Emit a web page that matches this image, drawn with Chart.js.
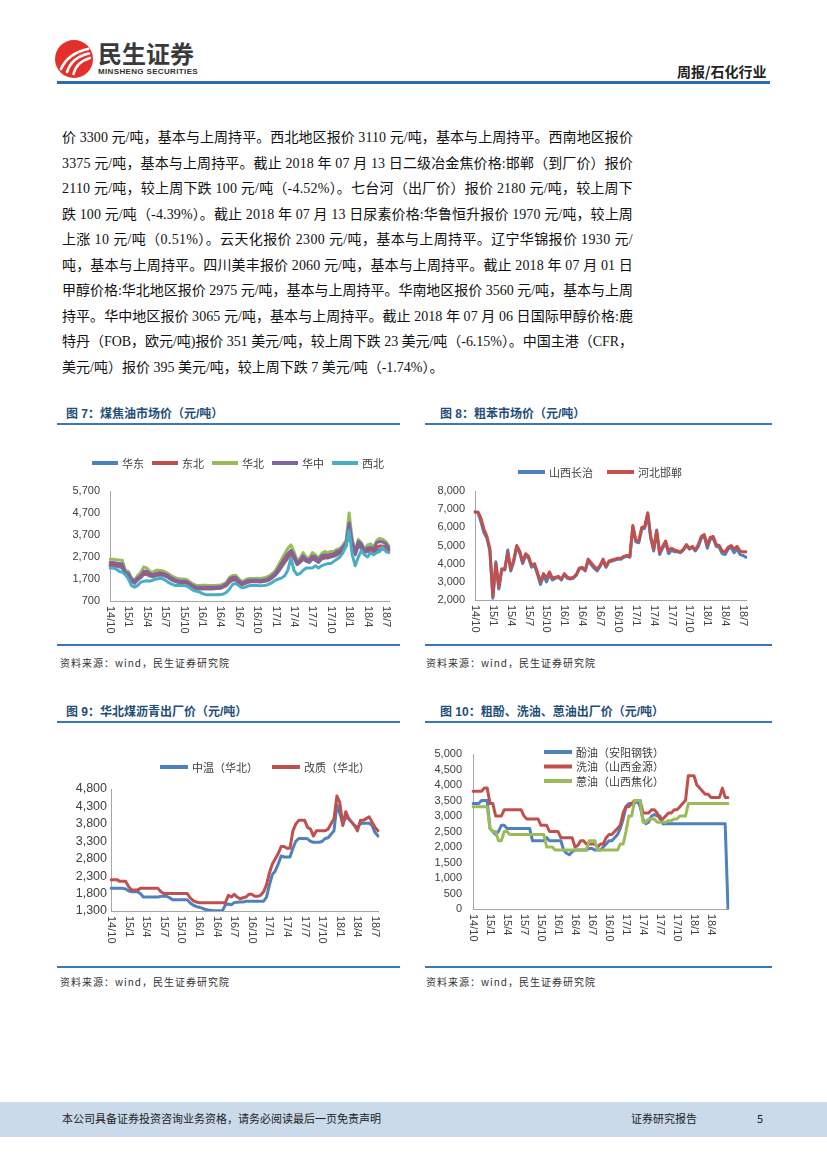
<!DOCTYPE html>
<html>
<head>
<meta charset="utf-8">
<script src="https://cdn.jsdelivr.net/npm/chart.js@4.4.1/dist/chart.umd.min.js"></script>
<style>
html, body { margin: 0; padding: 0; background: #fff; }
#page { position: relative; width: 827px; height: 1169px; overflow: hidden; background: #fff; }
.abs { position: absolute; }
.ln { position: absolute; left: 62px; height: 20px; line-height: 20px; font-size: 14px; color: #111;
      font-family: "Liberation Serif", "Noto Sans CJK SC", serif; white-space: nowrap; }
.title { position: absolute; font-family: "Liberation Sans", "Noto Sans CJK SC", sans-serif; font-weight: bold;
         font-size: 12px; line-height: 16px; color: #1F4E79; white-space: nowrap; }
.rule { position: absolute; background: #3B78B9; }
.src { position: absolute; font-family: "Noto Sans CJK SC", sans-serif; font-size: 10px; line-height: 14px;
       letter-spacing: 1px; color: #333; white-space: nowrap; }
canvas { position: absolute; }
.foot { position: absolute; font-family: "Noto Sans CJK SC", sans-serif; font-size: 11px; line-height: 16px; color: #222; white-space: nowrap; }
</style>
</head>
<body>
<div id="page">
  <!-- header -->
  <svg class="abs" style="left:54px;top:39px" width="40" height="40" viewBox="0 0 40 40">
    <circle cx="20" cy="20" r="19" fill="#E3302A"/>
    <path d="M7 30 C11 21 20 13 34 10" stroke="#fff" stroke-width="2.8" fill="none" stroke-linecap="round"/>
    <path d="M13 33 C16 24 23 17 35 14.5" stroke="#fff" stroke-width="2.6" fill="none" stroke-linecap="round"/>
    <path d="M19.5 35 C21 28 26 22 36 19" stroke="#fff" stroke-width="2.4" fill="none" stroke-linecap="round"/>
  </svg>
  <div class="abs" id="logoCn" style="left:98px;top:39px;font-family:'Noto Sans CJK SC',sans-serif;font-weight:bold;font-size:24px;line-height:28px;color:#3a3a3a;white-space:nowrap;">民生证券</div>
  <div class="abs fitw" data-w="100" style="left:98px;top:67px;font-family:'Liberation Sans',sans-serif;font-weight:bold;font-size:8px;line-height:10px;color:#333;white-space:nowrap;">MINSHENG SECURITIES</div>
  <div class="abs" style="left:677px;top:62px;font-family:'Noto Sans CJK SC',sans-serif;font-weight:bold;font-size:14px;line-height:18px;color:#222;white-space:nowrap;">周报/石化行业</div>
  <div class="abs" style="left:57px;top:81px;width:713px;height:3px;background:#2D6BAE;"></div>

  <!-- body text -->
  <div class="ln fit" style="top:128px">价 3300 元/吨，基本与上周持平。西北地区报价 3110 元/吨，基本与上周持平。西南地区报价</div>
  <div class="ln fit" style="top:154px">3375 元/吨，基本与上周持平。截止 2018 年 07 月 13 日二级冶金焦价格:邯郸（到厂价）报价</div>
  <div class="ln fit" style="top:179px">2110 元/吨，较上周下跌 100 元/吨（-4.52%）。七台河（出厂价）报价 2180 元/吨，较上周下</div>
  <div class="ln fit" style="top:205px">跌 100 元/吨（-4.39%）。截止 2018 年 07 月 13 日尿素价格:华鲁恒升报价 1970 元/吨，较上周</div>
  <div class="ln fit" style="top:230px">上涨 10 元/吨（0.51%）。云天化报价 2300 元/吨，基本与上周持平。辽宁华锦报价 1930 元/</div>
  <div class="ln fit" style="top:256px">吨，基本与上周持平。四川美丰报价 2060 元/吨，基本与上周持平。截止 2018 年 07 月 01 日</div>
  <div class="ln fit" style="top:281px">甲醇价格:华北地区报价 2975 元/吨，基本与上周持平。华南地区报价 3560 元/吨，基本与上周</div>
  <div class="ln fit" style="top:307px">持平。华中地区报价 3065 元/吨，基本与上周持平。截止 2018 年 07 月 06 日国际甲醇价格:鹿</div>
  <div class="ln fit" style="top:332px">特丹（FOB，欧元/吨)报价 351 美元/吨，较上周下跌 23 美元/吨（-6.15%）。中国主港（CFR，</div>
  <div class="ln" style="top:358px">美元/吨）报价 395 美元/吨，较上周下跌 7 美元/吨（-1.74%）。</div>

  <!-- figure 7 / 8 frames -->
  <div class="title" style="left:66px;top:406px">图 7：煤焦油市场价（元/吨）</div>
  <div class="rule" style="left:57px;top:423px;width:343px;height:1.5px"></div>
  <div class="title" style="left:440px;top:406px">图 8：粗苯市场价（元/吨）</div>
  <div class="rule" style="left:425px;top:423px;width:347px;height:1.5px"></div>
  <canvas id="chart7" width="340" height="215" style="left:60px;top:430px"></canvas>
  <canvas id="chart8" width="360" height="215" style="left:420px;top:430px"></canvas>
  <div class="rule" style="left:57px;top:644px;width:343px;height:2px"></div>
  <div class="rule" style="left:425px;top:644px;width:347px;height:2px"></div>
  <div class="src" style="left:60px;top:656px">资料来源：wind，民生证券研究院</div>
  <div class="src" style="left:426px;top:656px">资料来源：wind，民生证券研究院</div>

  <!-- figure 9 / 10 frames -->
  <div class="title" style="left:66px;top:704px">图 9：华北煤沥青出厂价（元/吨）</div>
  <div class="rule" style="left:57px;top:721px;width:343px;height:1.5px"></div>
  <div class="title" style="left:440px;top:704px">图 10：粗酚、洗油、蒽油出厂价（元/吨）</div>
  <div class="rule" style="left:425px;top:721px;width:347px;height:1.5px"></div>
  <canvas id="chart9" width="340" height="237" style="left:60px;top:730px"></canvas>
  <canvas id="chart10" width="360" height="237" style="left:420px;top:730px"></canvas>
  <div class="rule" style="left:57px;top:966px;width:343px;height:2px"></div>
  <div class="rule" style="left:425px;top:966px;width:347px;height:2px"></div>
  <div class="src" style="left:60px;top:975px">资料来源：wind，民生证券研究院</div>
  <div class="src" style="left:426px;top:975px">资料来源：wind，民生证券研究院</div>

  <!-- footer -->
  <div class="abs" style="left:0;top:1102px;width:827px;height:35px;background:#CBDAEA;"></div>
  <div class="foot" style="left:62px;top:1110px">本公司具备证券投资咨询业务资格，请务必阅读最后一页免责声明</div>
  <div class="foot" style="left:631px;top:1110px">证券研究报告</div>
  <div class="foot" style="left:757px;top:1110px">5</div>
</div>

<script>
// semi-monthly periods, 14/10 .. 18/7 (two points per month)
const periods = [];
for (let k = 0; k < 46; k++) {
    const y = 14 + Math.floor((9 + k) / 12);
    const m = (9 + k) % 12 + 1;
    periods.push(y + '/' + m, '');
}
const tickLabels = ['14/10', '15/1', '15/4', '15/7', '15/10', '16/1', '16/4', '16/7',
                    '16/10', '17/1', '17/4', '17/7', '17/10', '18/1', '18/4', '18/7'];

// 图7 煤焦油市场价
const tarHuadong = [2300,2300,2280,2250,2200,1900,1850,1600,1500,1650,
    1750,1900,1900,1830,1800,1850,1880,1870,1830,1760,
    1660,1600,1550,1530,1530,1510,1430,1340,1270,1250,
    1250,1260,1250,1250,1260,1270,1270,1330,1400,1560,
    1640,1660,1520,1430,1490,1550,1570,1570,1570,1560,
    1580,1610,1660,1760,1880,2050,2250,2450,2650,2800,
    2650,2350,2450,2600,2500,2450,2600,2550,2450,2600,
    2650,2650,2700,2730,2800,2850,3000,3200,3900,3200,
    2800,3200,3100,2900,2950,2950,2850,3000,3050,3050,
    3050,3000];
const tarDongbei = [2350,2350,2330,2320,2300,1950,1900,1650,1550,1700,
    1800,1950,1950,1880,1850,1900,1930,1920,1880,1800,
    1700,1630,1580,1560,1560,1540,1460,1370,1300,1280,
    1280,1290,1280,1280,1290,1300,1300,1360,1430,1600,
    1680,1700,1560,1460,1520,1580,1600,1600,1600,1590,
    1610,1640,1700,1800,1920,2100,2300,2500,2700,2850,
    2700,2400,2500,2650,2550,2500,2650,2600,2500,2650,
    2700,2700,2750,2780,2850,2900,3050,3250,4000,3300,
    2850,3300,3200,2950,3000,3050,2950,3150,3200,3200,
    3150,3000];
const tarHuabei = [2600,2600,2580,2560,2550,2100,2050,1750,1650,1850,
    2000,2250,2200,2050,2000,2100,2100,2080,2020,1950,
    1850,1780,1720,1700,1700,1680,1580,1480,1420,1400,
    1420,1420,1410,1400,1410,1420,1420,1480,1550,1780,
    1860,1870,1700,1580,1650,1720,1720,1720,1730,1720,
    1750,1780,1850,1950,2100,2350,2600,2850,3100,3250,
    2950,2550,2650,2900,2700,2650,2900,2800,2650,2850,
    2950,2900,2950,2950,3050,3100,3250,3450,4700,3500,
    3000,3500,3350,3050,3250,3300,3150,3450,3550,3500,
    3400,3200];
const tarHuazhong = [2450,2450,2430,2400,2380,2000,1950,1700,1600,1750,
    1850,2050,2050,1950,1900,1950,1980,1970,1920,1850,
    1750,1680,1620,1600,1600,1580,1500,1400,1340,1320,
    1330,1330,1320,1320,1330,1340,1340,1400,1480,1700,
    1780,1780,1620,1500,1570,1630,1640,1640,1640,1630,
    1650,1680,1750,1850,1980,2200,2420,2650,2850,3000,
    2800,2450,2550,2750,2600,2550,2750,2700,2550,2750,
    2800,2780,2820,2850,2950,3000,3150,3350,4250,3400,
    2900,3400,3300,3000,3100,3150,3050,3350,3400,3380,
    3300,3100];
const tarXibei = [2200,2200,2150,2050,2000,1900,1700,1400,1330,1400,
    1550,1600,1620,1600,1650,1700,1720,1720,1650,1550,
    1480,1420,1400,1400,1400,1380,1300,1200,1150,1120,
    1050,1000,980,980,980,980,990,1020,1100,1250,
    1450,1500,1400,1300,1320,1380,1400,1400,1400,1390,
    1400,1420,1480,1550,1650,1700,1750,1850,2100,2650,
    2100,1900,1950,2100,2200,2200,2200,2300,2200,2300,
    2350,2400,2400,2500,2600,2700,2900,3200,3900,2800,
    2300,2700,3000,2800,2700,2900,2800,2900,2950,3150,
    2950,2900];

// 图8 粗苯市场价
const benzeneShanxi = [6850,6800,6300,5700,5400,4700,2100,4100,2600,3700,
    3650,4750,3600,4100,4900,4600,4000,4450,4300,3800,
    3900,3400,2850,3350,3000,3400,3100,3200,3250,3100,
    3400,3200,3150,3200,3350,3700,3750,3600,4150,3950,
    3750,3600,3850,4150,3800,4100,4150,4200,4250,4250,
    4350,4400,4350,6000,5200,5150,5900,5950,6750,5400,
    4700,5850,4500,4850,5150,4550,4750,4650,4650,4600,
    4750,5000,4800,4900,4700,4950,5400,5500,4850,5350,
    5400,4950,4900,4550,4500,4800,4900,4600,4800,4500,
    4450,4350];
const benzeneHebei = [6850,6850,6500,5900,5500,4800,2200,4000,2700,3700,
    3700,4600,3700,4200,5000,4700,4100,4550,4400,3900,
    4000,3500,3000,3450,3200,3550,3200,3250,3300,3150,
    3450,3250,3200,3250,3400,3750,3800,3650,4250,4050,
    3850,3700,3900,4250,3850,4150,4200,4250,4300,4300,
    4400,4450,4400,6100,5300,5250,6000,6050,6800,5500,
    4800,5800,4600,4950,5250,4700,4850,4750,4700,4650,
    4800,5050,4850,4950,4750,5050,5500,5600,5000,5450,
    5500,5050,5000,4700,4650,4900,5000,4800,4950,4700,
    4650,4650];

// 图9 华北煤沥青出厂价
const pitchMid = [1950,1950,1950,1950,1950,1930,1880,1850,1850,1850,
    1800,1700,1700,1700,1700,1700,1700,1720,1720,1720,
    1680,1620,1620,1620,1620,1620,1620,1530,1470,1430,
    1410,1380,1350,1330,1320,1310,1310,1310,1310,1480,
    1500,1480,1540,1550,1560,1560,1580,1580,1580,1580,
    1580,1580,1580,1700,2050,2350,2450,2650,2880,2850,
    2850,2850,3100,3300,3380,3380,3380,3370,3300,3270,
    3270,3270,3300,3380,3400,3500,3600,4350,4100,3800,
    4000,3950,3850,3750,3700,3800,3820,3820,3820,3750,
    3550,3450];
const pitchModified = [2200,2200,2200,2150,2150,2150,2000,1900,1900,1900,
    1950,1950,1950,1950,1950,1950,1950,1850,1800,1800,
    1800,1800,1800,1800,1800,1800,1800,1680,1600,1560,
    1540,1540,1540,1540,1540,1540,1540,1540,1540,1540,
    1750,1700,1780,1700,1650,1680,1700,1780,1780,1720,
    1720,1750,1850,2050,2400,2650,2800,2950,3150,3150,
    3100,3100,3600,3800,3900,3900,3900,3700,3650,3450,
    3600,3600,3600,3600,3650,3800,3950,4600,4400,3750,
    4150,3950,3850,3750,3600,3900,3900,3950,4000,3850,
    3700,3600];

// 图10 粗酚、洗油、蒽油出厂价 (ends one point earlier)
const phenolOil = [3400,3400,3400,3500,3500,3500,2600,2500,2400,2500,
    2700,2700,2600,2600,2600,2600,2600,2600,2600,2600,
    2600,2200,2200,2200,2200,2200,2300,2200,2200,2200,
    2200,2200,1900,1800,1750,1850,1900,1900,1900,1900,
    1900,1950,1950,1900,1900,1900,2000,2100,2200,2200,
    2300,2400,2600,2900,3300,3400,3400,3400,3500,3300,
    2900,2750,2800,3000,3050,3000,3000,2750,2750,2750,
    2750,2750,2750,2750,2750,2750,2750,2750,2750,2750,
    2750,2750,2750,2750,2750,2750,2750,2750,2750,2750,
    0];
const washOil = [3800,3800,3800,3800,3900,3900,3400,3400,3000,3000,
    3000,3200,3200,3200,3200,3200,3200,3200,3000,2900,
    2900,2900,2900,2900,2700,2700,2700,2500,2500,2500,
    2500,2300,2300,2300,2300,2300,2000,2050,2200,2200,
    2100,2100,2100,2100,2000,2100,2100,2300,2400,2400,
    2500,2600,2700,3100,3300,3300,3400,3500,3500,3500,
    3100,3100,3100,3200,3200,3100,2900,2900,3000,3100,
    3100,3200,3200,3300,3400,3500,4300,4300,4300,4000,
    3900,3800,3700,3700,3600,3600,3600,3600,3900,3600,
    3600];
const anthraceneOil = [3300,3300,3300,3300,3300,3300,2600,2500,2500,2200,
    2200,2500,2500,2400,2400,2400,2400,2400,2400,2400,
    2400,2400,2400,2400,2400,2400,2000,2000,2000,1900,
    1900,1900,1900,1900,1900,1900,1900,1900,1900,1900,
    1900,2200,2200,2200,1900,1900,1900,1900,1900,1900,
    1900,1900,2100,2100,2500,3000,3000,3500,3500,3500,
    2800,2800,2900,2900,2900,2800,2800,2800,2800,2850,
    2850,2900,2900,3000,3000,3000,3400,3400,3400,3400,
    3400,3400,3400,3400,3400,3400,3400,3400,3400,3400,
    3400];

const BLUE = '#4F81BD', RED = '#C0504D', GREEN = '#9BBB59', PURPLE = '#8064A2', CYAN = '#4BACC6';
const AXIS_TEXT = '#404040';

Chart.defaults.font.family = '"Liberation Sans", "Noto Sans CJK SC", sans-serif';

// legend drawn as thick line samples with text, at a set spot in the canvas
const lineLegend = {
    id: 'lineLegend',
    afterDraw(chart, args, opts) {
        const ctx = chart.ctx;
        ctx.save();
        ctx.font = '11px "Noto Sans CJK SC", sans-serif';
        ctx.textBaseline = 'middle';
        ctx.textAlign = 'left';
        let x = opts.x;
        let y = opts.y;
        chart.data.datasets.forEach(ds => {
            ctx.strokeStyle = ds.borderColor;
            ctx.lineWidth = 4;
            ctx.beginPath();
            ctx.moveTo(x, y);
            ctx.lineTo(x + opts.lineLen, y);
            ctx.stroke();
            ctx.fillStyle = AXIS_TEXT;
            ctx.fillText(ds.label, x + opts.lineLen + 4, y + 0.5);
            if (opts.vertical) {
                y += opts.step;
            } else {
                x += opts.lineLen + 4 + ctx.measureText(ds.label).width + opts.gap;
            }
        });
        ctx.restore();
    }
};

// date labels turned 90deg clockwise under the x axis
const dateTicks = {
    id: 'dateTicks',
    afterDraw(chart, args, opts) {
        const xs = chart.scales.x;
        const ctx = chart.ctx;
        ctx.save();
        ctx.font = '11px "Liberation Sans", sans-serif';
        ctx.fillStyle = AXIS_TEXT;
        ctx.textBaseline = 'middle';
        ctx.textAlign = 'left';
        chart.data.labels.forEach((p, i) => {
            if (!p || !tickLabels.includes(p) || i > opts.lastIndex) return;
            ctx.save();
            ctx.translate(xs.getPixelForValue(i), xs.bottom - opts.height + 5);
            ctx.rotate(Math.PI / 2);
            ctx.fillText(p, 0, 0);
            ctx.restore();
        });
        ctx.restore();
    }
};

function renderLineChart(canvasId, series, cfg) {
    const ctx = document.getElementById(canvasId).getContext('2d');
    const datasets = series.map((s, i) => ({
        label: s.label,
        data: s.data,
        borderColor: s.color,
        borderWidth: cfg.lineWidth || 3,
        pointRadius: 0,
        tension: 0,
        fill: false,
        borderJoinStyle: 'round',
        borderCapStyle: 'round',
        order: series.length - i   // later series painted on top, as in the source
    }));
    return new Chart(ctx, {
        type: 'line',
        data: { labels: cfg.labels, datasets: datasets },
        options: {
            responsive: false,
            animation: false,
            devicePixelRatio: 1,
            layout: { padding: cfg.padding },
            plugins: {
                legend: { display: false },
                tooltip: { enabled: false },
                lineLegend: cfg.legend,
                dateTicks: { height: cfg.xHeight, lastIndex: cfg.lastTick }
            },
            scales: {
                x: {
                    grid: { display: false, drawTicks: false },
                    border: { color: '#A6A6A6', width: 1 },
                    ticks: { display: false },
                    afterFit: s => { s.height = cfg.xHeight; }
                },
                y: {
                    min: cfg.min,
                    max: cfg.max,
                    grid: { display: false, drawTicks: false },
                    border: { color: '#A6A6A6', width: 1 },
                    ticks: {
                        stepSize: cfg.step,
                        autoSkip: false,
                        color: AXIS_TEXT,
                        padding: cfg.tickPad,
                        font: { size: cfg.yFont || 11 }
                    },
                    afterFit: s => { s.width = cfg.yWidth; }
                }
            }
        },
        plugins: [lineLegend, dateTicks]
    });
}

renderLineChart('chart7', [
    { label: '华东', data: tarHuadong, color: BLUE },
    { label: '东北', data: tarDongbei, color: RED },
    { label: '华北', data: tarHuabei, color: GREEN },
    { label: '华中', data: tarHuazhong, color: PURPLE },
    { label: '西北', data: tarXibei, color: CYAN }
], {
    labels: periods, min: 700, max: 5700, step: 1000,
    padding: { left: 0, top: 61, right: 11, bottom: 0 },
    yWidth: 50, xHeight: 44, tickPad: 10, lastTick: 91,
    legend: { x: 32, y: 33, lineLen: 26, gap: 8 }
});

renderLineChart('chart8', [
    { label: '山西长治', data: benzeneShanxi, color: BLUE },
    { label: '河北邯郸', data: benzeneHebei, color: RED }
], {
    labels: periods, min: 2000, max: 8000, step: 1000,
    padding: { left: 0, top: 61, right: 34, bottom: 0 },
    yWidth: 55, xHeight: 45, tickPad: 10, lastTick: 91,
    legend: { x: 98, y: 42, lineLen: 27, gap: 14 }
});

renderLineChart('chart9', [
    { label: '中温（华北）', data: pitchMid, color: BLUE },
    { label: '改质（华北）', data: pitchModified, color: RED }
], {
    labels: periods, min: 1300, max: 4800, step: 500,
    padding: { left: 0, top: 59, right: 22, bottom: 0 },
    yWidth: 51, xHeight: 56, tickPad: 4, yFont: 12.5, lastTick: 91,
    legend: { x: 100, y: 37, lineLen: 28, gap: 14 }
});

renderLineChart('chart10', [
    { label: '酚油（安阳钢铁）', data: phenolOil, color: BLUE },
    { label: '洗油（山西金源）', data: washOil, color: RED },
    { label: '蒽油（山西焦化）', data: anthraceneOil, color: GREEN }
], {
    labels: periods.slice(0, 91), min: 0, max: 5000, step: 500,
    padding: { left: 0, top: 24, right: 52, bottom: 0 },
    yWidth: 53, xHeight: 58, tickPad: 11, lastTick: 84,
    legend: { x: 124, y: 22, lineLen: 28, vertical: true, step: 14.5 }
});

// stretch each full body line to the text block width
function fitWidth(el, width) {
    el.style.letterSpacing = '0px';
    const w = el.getBoundingClientRect().width;
    const n = el.textContent.length;
    el.style.letterSpacing = ((width - w) / n) + 'px';
}
document.querySelectorAll('.fit').forEach(el => fitWidth(el, 571));
document.querySelectorAll('.fitw').forEach(el => fitWidth(el, Number(el.dataset.w)));
</script>
</body>
</html>
